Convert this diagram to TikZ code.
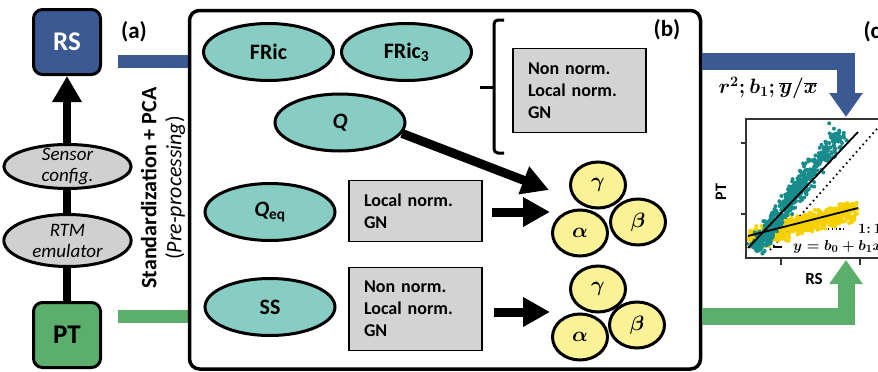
\documentclass[tikz,border=0pt]{standalone}
\usepackage{fontspec}
\setmainfont{Carlito}
\usetikzlibrary{arrows.meta,shapes.geometric}

\definecolor{rsblue}{RGB}{59,89,146}
\definecolor{ptgreen}{RGB}{91,174,107}
\definecolor{divteal}{RGB}{136,205,196}
\definecolor{ellgray}{RGB}{208,208,208}
\definecolor{boxgray}{RGB}{211,211,211}
\definecolor{paryellow}{RGB}{251,241,150}
\definecolor{dotteal}{RGB}{24,140,140}
\definecolor{dotyellow}{RGB}{246,208,0}

\newcommand{\twoline}[1]{\parbox[c][10pt][c]{90pt}{\centering #1}}

\tikzset{
	datbox/.style={draw=black, line width=3pt, rounded corners=9pt, minimum width=67pt, minimum height=65pt, font=\fontsize{27}{30}\selectfont\bfseries},
	stepell/.style={ellipse, draw=black, line width=3pt, fill=ellgray, inner sep=0pt, font=\fontsize{19}{21}\selectfont\itshape},
	divell/.style={ellipse, draw=black, line width=3pt, fill=divteal, minimum width=130pt, minimum height=57pt, font=\fontsize{22}{26}\selectfont\bfseries},
	normbox/.style={draw=black, line width=1.5pt, fill=boxgray, minimum width=133pt, text width=103pt, align=left, font=\fontsize{18}{22}\selectfont\bfseries},
	parell/.style={ellipse, draw=black, line width=3pt, fill=paryellow, minimum width=55pt, minimum height=46pt, inner sep=0pt, font=\fontsize{21}{24}\selectfont\boldmath},
	fatarrow/.style={line width=9pt, -{Triangle[length=27pt,width=28pt]}},
	panlabel/.style={font=\fontsize{23}{26}\selectfont\bfseries},
	brace/.style={line width=3pt, rounded corners=4pt},
	mathlabel/.style={inner sep=0pt, font=\fontsize{15}{18}\selectfont\boldmath},
}

\begin{document}
\begin{tikzpicture}[x=1pt, y=-1pt]
		%%%%% START %%%%%
		\useasboundingbox (0,0) rectangle (878,372);
		\clip (0,0) rectangle (878,372);
		
		% (a) data sources
		\node[datbox, fill=rsblue, text=white] (rs) at (67,42) {RS};
		\node[datbox, fill=ptgreen] (pt) at (67,335) {PT};
		\draw[line width=8pt, -{Triangle[length=26pt,width=28pt]}] (pt) -- (rs);
		\node[stepell, minimum width=108pt, minimum height=44pt] (sensor) at (67.5,166.5) {\twoline{Sensor\\config.}};
		\node[stepell, minimum width=112pt, minimum height=52pt] (rtm) at (67.5,240.5) {\twoline{RTM\\emulator}};
		\node[panlabel] (lbla) at (134,32) {(a)};
		\node[rotate=90, align=center, font=\fontsize{22}{25}\selectfont] (prep) at (163,188) {\textbf{Standardization + PCA}\\(\textit{Pre-processing})};
		
		\coordinate (rsbar) at (118,61.5);
		\coordinate (ptbar) at (118,316.5);
		\coordinate (rsend) at (846,117);
		\coordinate (ptend) at (846,260);
		
		% bars run behind panel (b)
		\draw[rsblue, line width=13pt] (rsbar) -- (rsbar -| 300,0);
		\draw[ptgreen, line width=13pt] (ptbar) -- (ptbar -| 300,0);
		
		% (b) diversity metrics
		\node[draw=black, line width=3.5pt, fill=white, rounded corners=10pt, minimum width=511pt, minimum height=358.5pt] (panelb) at (445,189.75) {};
		\node[panlabel] (lblb) at (667,30) {(b)};
		
		\node[divell] (fric) at (268.5,52) {FRic};
		\node[divell] (fricthree) at (406.5,52) {FRic\textsubscript{3}};
		\node[divell] (q) at (340,122.5) {\itshape Q};
		\node[divell] (qeq) at (270,212) {{\itshape Q}\textsubscript{eq}};
		\node[divell] (ss) at (270,307) {SS};
		
		\draw[brace] (504,20) -- (494,20) -- (494,153) -- (504,153);
		\draw[line width=3pt] (494,87) -- (480,87);
		
		\node[normbox, minimum height=84pt] (allnorm) at (579.5,90.5) {Non norm.\\Local norm.\\GN};
		\node[normbox, minimum height=61pt] (qeqnorm) at (415.5,211) {Local norm.\\GN};
		\node[normbox, minimum height=83pt] (ssnorm) at (415.5,309) {Non norm.\\Local norm.\\GN};
		
		\coordinate (inup) at (549,190);
		\coordinate (inmid) at (550,212);
		\coordinate (inlow) at (550,312);
		\draw[fatarrow] (q.-10) -- (inup);
		\draw[fatarrow, shorten <=9pt] (qeqnorm.east |- inmid) -- (inmid);
		\draw[fatarrow, shorten <=11pt] (ssnorm.east |- inlow) -- (inlow);
		
		\node[parell] (gamup) at (598,185) {$\gamma$};
		\node[parell] (betup) at (638,222) {$\beta$};
		\node[parell] (alpup) at (580,233) {$\alpha$};
		\node[parell] (gamlow) at (598,289) {$\gamma$};
		\node[parell] (betlow) at (637,325) {$\beta$};
		\node[parell] (alplow) at (580,337) {$\alpha$};
		
		% (c) validation
		\draw[rsblue, line width=17.5pt, line join=miter, -{Triangle[length=24pt,width=32pt]}] (rsbar -| panelb.east) -| (rsend);
		\draw[ptgreen, line width=17pt, line join=miter, -{Triangle[length=24pt,width=32pt]}] (ptbar -| panelb.east) -- (846,316.5) -- (ptend);
		\node[panlabel, anchor=west] (lblc) at (860,32) {(c)};
		\node[font=\fontsize{20}{24}\selectfont\boldmath] (metrics) at (768,88) {$r^2; b_1; \overline{y}/\overline{x}$};
		
		\begin{scope}
			\clip (746,119) rectangle (960,258);
			\draw[line width=1.8pt, dash pattern=on 1.6pt off 3.4pt] (770,250) -- (890,114);
			\pgfmathsetseed{11}
			\foreach \k in {1,...,650}{
				\pgfmathsetmacro{\ta}{rnd}
				\pgfmathsetmacro{\sa}{(rand+rand+rand)*4.8}
				\pgfmathsetmacro{\sb}{(rand+rand)*4}
				\fill[dotyellow] ({750+105*\ta+\sb},{238-28*\ta+\sa}) circle (2pt);
			}
			\foreach \k in {1,...,550}{
				\pgfmathsetmacro{\ta}{rnd}
				\pgfmathsetmacro{\sa}{(rand+rand+rand)*4*(1+0.3*\ta)}
				\fill[dotteal] ({754+86*\ta+0.81*\sa},{250-120*\ta+0.59*\sa}) circle (2pt);
			}
			\draw[line width=1.8pt] (748,248) -- (858,132);
			\draw[line width=1.8pt] (748,236) -- (858,208);
		\end{scope}
		\draw[line width=1.5pt, black!80] (960,119) -| (746,258) -- (960,258);
		\draw[line width=1.5pt, black!80] (741,143) -- (746,143);
		\draw[line width=1.5pt, black!80] (741,214) -- (746,214);
		\draw[line width=1.5pt, black!80] (781,258) -- (781,265);
		\draw[line width=1.5pt, black!80] (860,258) -- (860,265);
		\node[rotate=90, font=\fontsize{16}{18}\selectfont\bfseries] (ylab) at (721,192) {PT};
		\node[font=\fontsize{17}{20}\selectfont\bfseries] (xlab) at (814,279) {RS};
		
		\draw[line width=1.6pt, dash pattern=on 1.4pt off 2.4pt] (828,229) -- (844,229);
		\draw[line width=1.6pt] (773,247) -- (782,247);
		\node[mathlabel, anchor=west] (leg11) at (858,229) {$1{:}\,1$};
		\node[mathlabel, anchor=west] (legfit) at (793,247) {$y = b_0 + b_1 x$};
		%%%%% END %%%%%
\end{tikzpicture}
\end{document}
